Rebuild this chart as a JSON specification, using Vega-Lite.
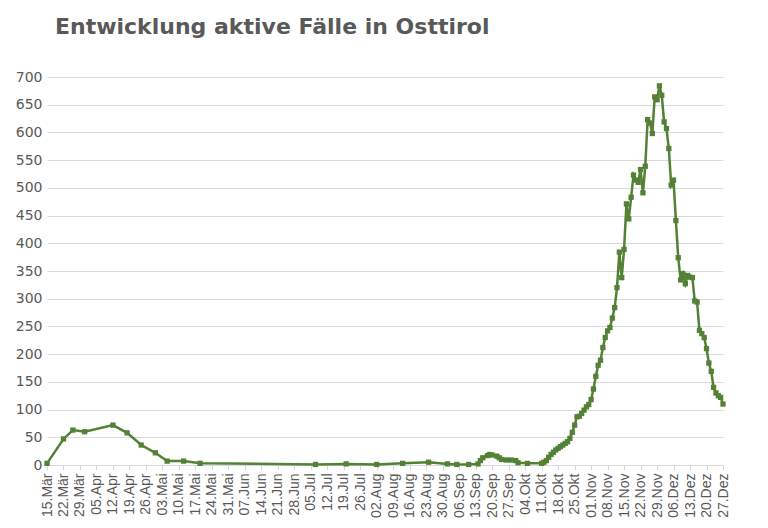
{
  "$schema": "https://vega.github.io/schema/vega-lite/v6.json",
  "width": 676,
  "height": 388,
  "autosize": {"type": "none"},
  "padding": {"left": 47, "top": 77, "right": 45, "bottom": 63},
  "background": "white",
  "title": {
    "text": "Entwicklung aktive Fälle in Osttirol",
    "anchor": "start",
    "frame": "group",
    "dx": 8,
    "offset": 40,
    "dy": 9,
    "font": "DejaVu Sans",
    "fontSize": 22,
    "fontWeight": "bold",
    "color": "#595959"
  },
  "config": {
    "view": {"stroke": null},
    "locale": {
      "time": {
        "dateTime": "%A, der %e. %B %Y, %X",
        "date": "%d.%m.%Y",
        "time": "%H:%M:%S",
        "periods": ["AM", "PM"],
        "days": ["Sonntag", "Montag", "Dienstag", "Mittwoch", "Donnerstag", "Freitag", "Samstag"],
        "shortDays": ["So", "Mo", "Di", "Mi", "Do", "Fr", "Sa"],
        "months": ["Januar", "Februar", "März", "April", "Mai", "Juni", "Juli", "August", "September", "Oktober", "November", "Dezember"],
        "shortMonths": ["Jan", "Feb", "Mär", "Apr", "Mai", "Jun", "Jul", "Aug", "Sep", "Okt", "Nov", "Dez"]
      }
    },
    "axis": {
      "labelFont": "Liberation Sans",
      "labelFontSize": 14,
      "labelColor": "#595959",
      "title": null
    }
  },
  "data": {
    "values": [
      {"datum": "2020-03-15T00:00:00", "faelle": 3},
      {"datum": "2020-03-22T00:00:00", "faelle": 47},
      {"datum": "2020-03-26T00:00:00", "faelle": 63},
      {"datum": "2020-03-31T00:00:00", "faelle": 60},
      {"datum": "2020-04-12T00:00:00", "faelle": 72},
      {"datum": "2020-04-18T00:00:00", "faelle": 58},
      {"datum": "2020-04-24T00:00:00", "faelle": 36},
      {"datum": "2020-04-30T00:00:00", "faelle": 22},
      {"datum": "2020-05-05T00:00:00", "faelle": 7},
      {"datum": "2020-05-12T00:00:00", "faelle": 7},
      {"datum": "2020-05-19T00:00:00", "faelle": 3},
      {"datum": "2020-07-07T00:00:00", "faelle": 1},
      {"datum": "2020-07-20T00:00:00", "faelle": 2},
      {"datum": "2020-08-02T00:00:00", "faelle": 1},
      {"datum": "2020-08-13T00:00:00", "faelle": 3},
      {"datum": "2020-08-24T00:00:00", "faelle": 5},
      {"datum": "2020-09-01T00:00:00", "faelle": 2},
      {"datum": "2020-09-05T00:00:00", "faelle": 1},
      {"datum": "2020-09-10T00:00:00", "faelle": 1},
      {"datum": "2020-09-14T00:00:00", "faelle": 2},
      {"datum": "2020-09-15T00:00:00", "faelle": 8},
      {"datum": "2020-09-16T00:00:00", "faelle": 13},
      {"datum": "2020-09-18T00:00:00", "faelle": 17},
      {"datum": "2020-09-19T00:00:00", "faelle": 19},
      {"datum": "2020-09-20T00:00:00", "faelle": 18},
      {"datum": "2020-09-22T00:00:00", "faelle": 16},
      {"datum": "2020-09-23T00:00:00", "faelle": 13},
      {"datum": "2020-09-24T00:00:00", "faelle": 10},
      {"datum": "2020-09-26T00:00:00", "faelle": 9},
      {"datum": "2020-09-28T00:00:00", "faelle": 9},
      {"datum": "2020-09-30T00:00:00", "faelle": 8},
      {"datum": "2020-10-01T00:00:00", "faelle": 4},
      {"datum": "2020-10-05T00:00:00", "faelle": 3},
      {"datum": "2020-10-11T00:00:00", "faelle": 3},
      {"datum": "2020-10-12T00:00:00", "faelle": 5},
      {"datum": "2020-10-13T00:00:00", "faelle": 8},
      {"datum": "2020-10-14T00:00:00", "faelle": 14},
      {"datum": "2020-10-15T00:00:00", "faelle": 19},
      {"datum": "2020-10-16T00:00:00", "faelle": 23},
      {"datum": "2020-10-17T00:00:00", "faelle": 27},
      {"datum": "2020-10-18T00:00:00", "faelle": 30},
      {"datum": "2020-10-19T00:00:00", "faelle": 33},
      {"datum": "2020-10-20T00:00:00", "faelle": 36},
      {"datum": "2020-10-21T00:00:00", "faelle": 39},
      {"datum": "2020-10-22T00:00:00", "faelle": 42},
      {"datum": "2020-10-23T00:00:00", "faelle": 48},
      {"datum": "2020-10-24T00:00:00", "faelle": 59},
      {"datum": "2020-10-25T00:00:00", "faelle": 72},
      {"datum": "2020-10-26T00:00:00", "faelle": 87},
      {"datum": "2020-10-27T00:00:00", "faelle": 88},
      {"datum": "2020-10-28T00:00:00", "faelle": 93},
      {"datum": "2020-10-29T00:00:00", "faelle": 99},
      {"datum": "2020-10-30T00:00:00", "faelle": 105},
      {"datum": "2020-10-31T00:00:00", "faelle": 109},
      {"datum": "2020-11-01T00:00:00", "faelle": 118},
      {"datum": "2020-11-02T00:00:00", "faelle": 137},
      {"datum": "2020-11-03T00:00:00", "faelle": 160},
      {"datum": "2020-11-04T00:00:00", "faelle": 180},
      {"datum": "2020-11-05T00:00:00", "faelle": 189},
      {"datum": "2020-11-06T00:00:00", "faelle": 212},
      {"datum": "2020-11-07T00:00:00", "faelle": 230},
      {"datum": "2020-11-08T00:00:00", "faelle": 242},
      {"datum": "2020-11-09T00:00:00", "faelle": 248},
      {"datum": "2020-11-10T00:00:00", "faelle": 265},
      {"datum": "2020-11-11T00:00:00", "faelle": 284},
      {"datum": "2020-11-12T00:00:00", "faelle": 320},
      {"datum": "2020-11-13T00:00:00", "faelle": 384},
      {"datum": "2020-11-14T00:00:00", "faelle": 338},
      {"datum": "2020-11-15T00:00:00", "faelle": 389},
      {"datum": "2020-11-16T00:00:00", "faelle": 471},
      {"datum": "2020-11-17T00:00:00", "faelle": 444},
      {"datum": "2020-11-18T00:00:00", "faelle": 483},
      {"datum": "2020-11-19T00:00:00", "faelle": 523},
      {"datum": "2020-11-20T00:00:00", "faelle": 514},
      {"datum": "2020-11-21T00:00:00", "faelle": 510},
      {"datum": "2020-11-22T00:00:00", "faelle": 533},
      {"datum": "2020-11-23T00:00:00", "faelle": 491},
      {"datum": "2020-11-24T00:00:00", "faelle": 539},
      {"datum": "2020-11-25T00:00:00", "faelle": 623},
      {"datum": "2020-11-26T00:00:00", "faelle": 617},
      {"datum": "2020-11-27T00:00:00", "faelle": 598},
      {"datum": "2020-11-28T00:00:00", "faelle": 664},
      {"datum": "2020-11-29T00:00:00", "faelle": 659},
      {"datum": "2020-11-30T00:00:00", "faelle": 684},
      {"datum": "2020-12-01T00:00:00", "faelle": 667},
      {"datum": "2020-12-02T00:00:00", "faelle": 619},
      {"datum": "2020-12-03T00:00:00", "faelle": 607},
      {"datum": "2020-12-04T00:00:00", "faelle": 571},
      {"datum": "2020-12-05T00:00:00", "faelle": 505},
      {"datum": "2020-12-06T00:00:00", "faelle": 514},
      {"datum": "2020-12-07T00:00:00", "faelle": 441},
      {"datum": "2020-12-08T00:00:00", "faelle": 374},
      {"datum": "2020-12-09T00:00:00", "faelle": 334},
      {"datum": "2020-12-10T00:00:00", "faelle": 345},
      {"datum": "2020-12-11T00:00:00", "faelle": 327},
      {"datum": "2020-12-12T00:00:00", "faelle": 342},
      {"datum": "2020-12-13T00:00:00", "faelle": 339},
      {"datum": "2020-12-14T00:00:00", "faelle": 338},
      {"datum": "2020-12-15T00:00:00", "faelle": 296},
      {"datum": "2020-12-16T00:00:00", "faelle": 294},
      {"datum": "2020-12-17T00:00:00", "faelle": 243},
      {"datum": "2020-12-18T00:00:00", "faelle": 237},
      {"datum": "2020-12-19T00:00:00", "faelle": 230},
      {"datum": "2020-12-20T00:00:00", "faelle": 210},
      {"datum": "2020-12-21T00:00:00", "faelle": 184},
      {"datum": "2020-12-22T00:00:00", "faelle": 169},
      {"datum": "2020-12-23T00:00:00", "faelle": 140},
      {"datum": "2020-12-24T00:00:00", "faelle": 130},
      {"datum": "2020-12-25T00:00:00", "faelle": 125},
      {"datum": "2020-12-26T00:00:00", "faelle": 122},
      {"datum": "2020-12-27T00:00:00", "faelle": 110}
    ]
  },
  "mark": {
    "type": "line",
    "color": "#538135",
    "strokeWidth": 2.5,
    "point": {"shape": "square", "size": 28, "filled": true, "color": "#538135"}
  },
  "encoding": {
    "x": {
      "field": "datum",
      "type": "temporal",
      "scale": {
        "domain": [
          {"year": 2020, "month": 3, "date": 15},
          {"year": 2020, "month": 12, "date": 27}
        ]
      },
      "axis": {
        "tickCount": {"interval": "week", "step": 1},
        "format": "%d.%b",
        "labelAngle": 270,
        "labelAlign": "right",
        "labelBaseline": "middle",
        "labelPadding": 3,
        "labelOverlap": false,
        "labelFlush": false,
        "grid": false,
        "domainColor": "#d9d9d9",
        "tickColor": "#d9d9d9",
        "tickSize": 5
      }
    },
    "y": {
      "field": "faelle",
      "type": "quantitative",
      "scale": {"domain": [0, 700], "nice": false},
      "axis": {
        "values": [0, 50, 100, 150, 200, 250, 300, 350, 400, 450, 500, 550, 600, 650, 700],
        "labelFont": "DejaVu Sans",
        "grid": true,
        "gridColor": "#d9d9d9",
        "domain": false,
        "ticks": false,
        "labelPadding": 5
      }
    }
  }
}
